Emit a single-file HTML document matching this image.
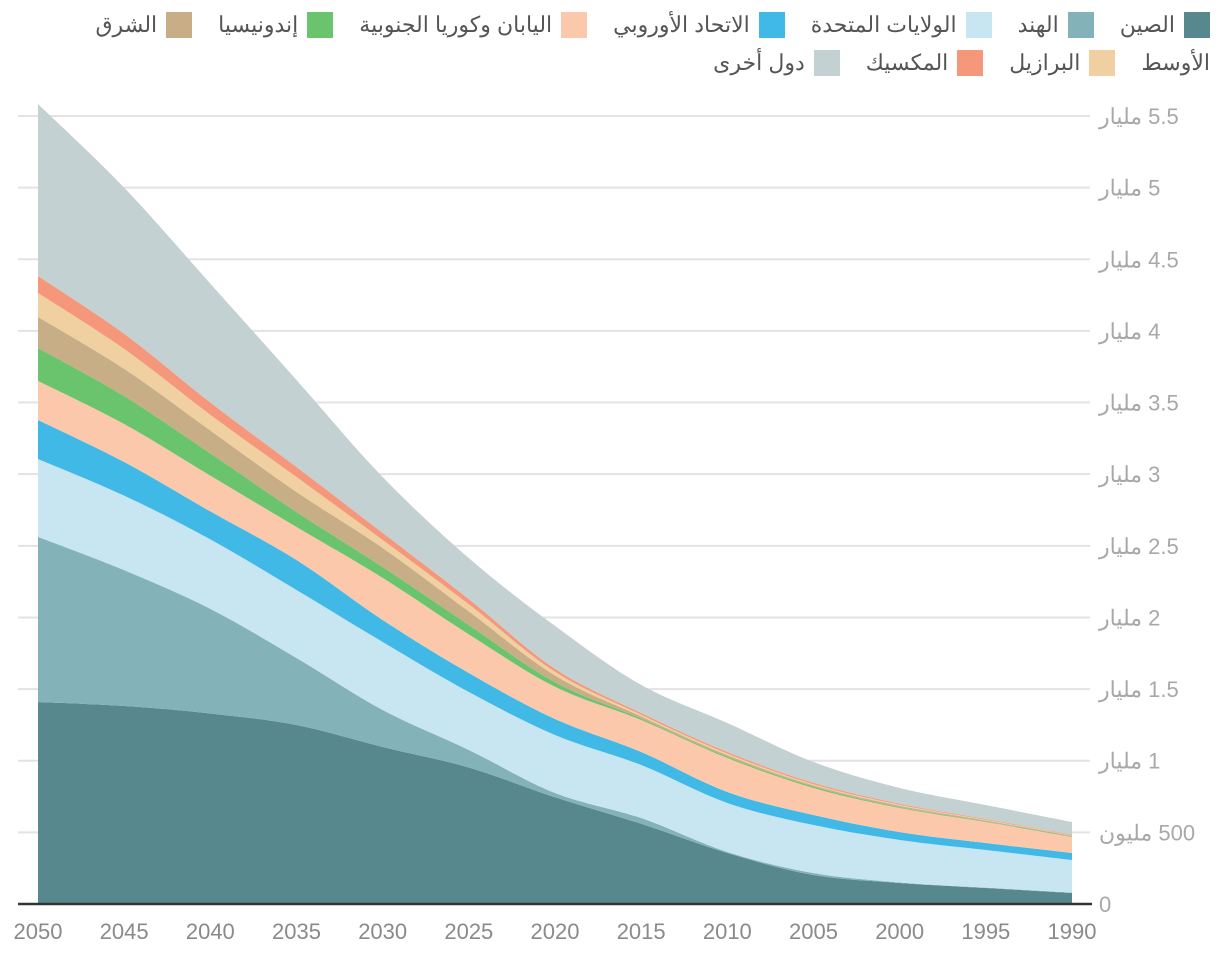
<!DOCTYPE html>
<html lang="ar">
<head>
<meta charset="utf-8">
<style>
  html,body{margin:0;padding:0;background:#fff;}
  body{width:1220px;height:958px;position:relative;overflow:hidden;font-family:"Liberation Sans","Noto Sans CJK SC",sans-serif;}
  .legend-row{position:absolute;right:10px;display:flex;direction:rtl;align-items:center;font-size:22px;color:#555;white-space:nowrap;}
  .item{display:flex;align-items:center;margin-left:26px;}
  .sw{width:26px;height:26px;display:inline-block;margin-left:9px;}
  svg{position:absolute;left:0;top:0;}
</style>
</head>
<body>
<div class="legend-row" style="top:12px;">
  <div class="item"><span class="sw" style="background:#56888e"></span>الصين</div>
  <div class="item"><span class="sw" style="background:#83b3b9"></span>الهند</div>
  <div class="item"><span class="sw" style="background:#c7e6f2"></span>الولايات المتحدة</div>
  <div class="item"><span class="sw" style="background:#41b9e6"></span>الاتحاد الأوروبي</div>
  <div class="item"><span class="sw" style="background:#fbc8ab"></span>اليابان وكوريا الجنوبية</div>
  <div class="item"><span class="sw" style="background:#69c46d"></span>إندونيسيا</div>
  <div class="item"><span class="sw" style="background:#c8ae86"></span>الشرق</div>
</div>
<div class="legend-row" style="top:50px;">
  <div class="item">الأوسط</div>
  <div class="item"><span class="sw" style="background:#f0cfa0"></span>البرازيل</div>
  <div class="item"><span class="sw" style="background:#f5977a"></span>المكسيك</div>
  <div class="item"><span class="sw" style="background:#c4d1d2"></span>دول أخرى</div>
</div>
<svg id="chart" width="1220" height="958"></svg>
<script>
const years = [2050,2045,2040,2035,2030,2025,2020,2015,2010,2005,2000,1995,1990];
const china = [1410,1382,1330,1249,1096,953,745,560,356,202,147,112,77];
const india = [1152,948,730,468,258,122,30,40,7,14,3,2,2];
const usa = [544,520,485,475,475,405,405,370,342,335,297,263,228];
const eu = [272,235,195,209,153,132,111,91,77,70,55,49,49];
const japanKorea = [273,265,250,230,294,270,225,223,237,189,168,146,112];
const indonesia = [230,195,155,105,76,65,32,10,8,8,5,4,3];
const middleEast = [216,190,160,140,133,95,47,15,12,10,11,7,5];
const brazil = [168,140,110,104,56,50,26,12,11,8,7,5,4];
const mexico = [118,105,85,70,49,36,20,12,11,9,7,5,4];
const other = [1201,1020,830,607,390,286,300,196,202,146,110,98,88];
const yTicks = [0,500,1000,1500,2000,2500,3000,3500,4000,4500,5000,5500];
const yTickLabels = ["0","500 مليون","1 مليار","1.5 مليار","2 مليار","2.5 مليار","3 مليار","3.5 مليار","4 مليار","4.5 مليار","5 مليار","5.5 مليار"];
const xTicks = [2050,2045,2040,2035,2030,2025,2020,2015,2010,2005,2000,1995,1990];

const seriesList = [
  {name:'china',vals:china,color:'#56888e'},
  {name:'india',vals:india,color:'#83b3b9'},
  {name:'us',vals:usa,color:'#c7e6f2'},
  {name:'eu',vals:eu,color:'#41b9e6'},
  {name:'japan-korea',vals:japanKorea,color:'#fbc8ab'},
  {name:'indonesia',vals:indonesia,color:'#69c46d'},
  {name:'middle-east',vals:middleEast,color:'#c8ae86'},
  {name:'brazil',vals:brazil,color:'#f0cfa0'},
  {name:'mexico',vals:mexico,color:'#f5977a'},
  {name:'other',vals:other,color:'#c4d1d2'}
];

const NS='http://www.w3.org/2000/svg';
const svg=document.getElementById('chart');
function xS(yr){return 38+(2050-yr)*(1072-38)/60;}
function yS(v){return 904-v*(904-116)/5500;}

const gGrid=document.createElementNS(NS,'g');


svg.appendChild(gGrid);
yTicks.forEach((t,i)=>{
  const y=yS(t);
  if(t>0){
    const l=document.createElementNS(NS,'line');
    l.setAttribute('x1',18);l.setAttribute('x2',1090);l.setAttribute('y1',y);l.setAttribute('y2',y);
    l.setAttribute('stroke','#e3e3e3');l.setAttribute('stroke-width','2');
    
    
    gGrid.appendChild(l);
  }
  const tx=document.createElementNS(NS,'text');
  tx.setAttribute('x',1099);tx.setAttribute('y',y+8);
  tx.setAttribute('font-size','22');tx.setAttribute('fill','#a8a8a8');
  tx.style.direction='rtl';
  tx.setAttribute('text-anchor','end');
  tx.textContent=yTickLabels[i];
  
  
  svg.appendChild(tx);
});

function smoothPath(pts){
  let d='';
  for(let i=0;i<pts.length;i++){
    if(i===0){d+='M'+pts[0][0]+','+pts[0][1];continue;}
    const p0=pts[Math.max(0,i-2)],p1=pts[i-1],p2=pts[i],p3=pts[Math.min(pts.length-1,i+1)];
    const c1x=p1[0]+(p2[0]-p0[0])/6,c1y=p1[1]+(p2[1]-p0[1])/6;
    const c2x=p2[0]-(p3[0]-p1[0])/6,c2y=p2[1]-(p3[1]-p1[1])/6;
    d+=' C'+c1x+','+c1y+' '+c2x+','+c2y+' '+p2[0]+','+p2[1];
  }
  return d;
}

const base=years.map(()=>0);
seriesList.forEach(s=>{
  const lower=base.slice();
  const upper=base.map((b,i)=>b+s.vals[i]);
  const top=years.map((yr,i)=>[xS(yr),yS(upper[i])]);
  const bot=years.map((yr,i)=>[xS(yr),yS(lower[i])]).reverse();
  let d=smoothPath(top);
  d+=' L'+bot[0][0]+','+bot[0][1]+' '+smoothPath(bot).slice(1)+' Z';
  const p=document.createElementNS(NS,'path');
  p.setAttribute('d',d);p.setAttribute('fill',s.color);
  
  
  svg.appendChild(p);
  for(let i=0;i<base.length;i++)base[i]=upper[i];
});

const axis=document.createElementNS(NS,'line');
axis.setAttribute('x1',18);axis.setAttribute('x2',1092);axis.setAttribute('y1',904);axis.setAttribute('y2',904);
axis.setAttribute('stroke','#333');axis.setAttribute('stroke-width','2.5');


svg.appendChild(axis);

xTicks.forEach(yr=>{
  const tx=document.createElementNS(NS,'text');
  tx.setAttribute('x',xS(yr));tx.setAttribute('y',939);
  tx.setAttribute('font-size','22');tx.setAttribute('fill','#8a8a8a');
  tx.setAttribute('text-anchor','middle');
  tx.textContent=yr;
  
  
  svg.appendChild(tx);
});
</script>
</body>
</html>
